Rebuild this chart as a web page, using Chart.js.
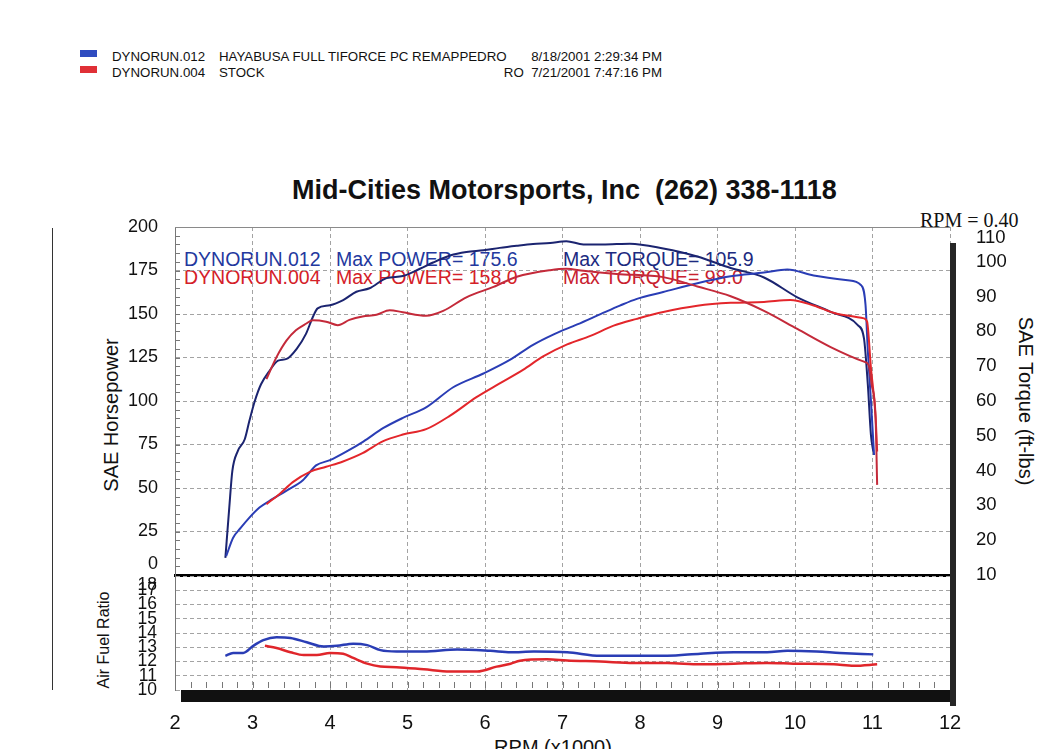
<!DOCTYPE html>
<html><head><meta charset="utf-8">
<script src="https://cdn.jsdelivr.net/npm/chart.js@4.4.0/dist/chart.umd.min.js"></script>
<style>
html,body{margin:0;padding:0;background:#fff;}
body{width:1051px;height:749px;position:relative;overflow:hidden;font-family:'Liberation Sans',Arial,sans-serif;color:#111;}
.t{position:absolute;white-space:pre;line-height:1;z-index:1;}
.r{position:absolute;z-index:3;}
canvas{position:absolute;left:0;top:0;z-index:2;}
</style></head><body>

<!-- header legend -->
<div class="r" style="left:80px;top:50px;width:17px;height:7px;background:#2f4cc0;z-index:1"></div>
<div class="r" style="left:80px;top:66px;width:17px;height:7px;background:#e03036;z-index:1"></div>
<div class="t" style="left:112px;top:50px;font-size:13.3px;">DYNORUN.012</div>
<div class="t" style="left:219px;top:50px;font-size:13.3px;">HAYABUSA FULL TIFORCE PC REMAPPEDRO</div>
<div class="t" style="right:389px;top:50px;font-size:13.3px;">8/18/2001 2:29:34 PM</div>
<div class="t" style="left:112px;top:66px;font-size:13.3px;">DYNORUN.004</div>
<div class="t" style="left:219px;top:66px;font-size:13.3px;">STOCK</div>
<div class="t" style="right:389px;top:66px;font-size:13.3px;">RO  7/21/2001 7:47:16 PM</div>

<!-- title -->
<div class="t" style="left:292px;top:177px;font-size:27px;font-weight:bold;">Mid-Cities Motorsports, Inc  (262) 338-1118</div>
<div class="t" style="left:920px;top:210px;font-size:20px;font-family:'Liberation Serif','Times New Roman',serif;">RPM = 0.40</div>

<!-- in-chart annotations -->
<div class="t" style="left:184px;top:250px;font-size:19.5px;color:#23389e;">DYNORUN.012</div>
<div class="t" style="left:336px;top:250px;font-size:19.5px;color:#23389e;">Max POWER= 175.6</div>
<div class="t" style="left:563px;top:250px;font-size:19.5px;color:#1c2a80;">Max TORQUE= 105.9</div>
<div class="t" style="left:184px;top:268px;font-size:19.5px;color:#d42028;">DYNORUN.004</div>
<div class="t" style="left:336px;top:268px;font-size:19.5px;color:#d42028;">Max POWER= 158.0</div>
<div class="t" style="left:563px;top:268px;font-size:19.5px;color:#c8202e;">Max TORQUE= 98.0</div>

<!-- axis titles -->
<div class="t" style="left:111px;top:415px;font-size:20px;transform:translate(-50%,-50%) rotate(-90deg);">SAE Horsepower</div>
<div class="t" style="left:1026px;top:401px;font-size:20px;transform:translate(-50%,-50%) rotate(90deg);">SAE Torque (ft-lbs)</div>
<div class="t" style="left:104px;top:640px;font-size:16px;transform:translate(-50%,-50%) rotate(-90deg);">Air Fuel Ratio</div>
<div class="t" style="left:553px;top:737px;font-size:20px;transform:translateX(-50%);">RPM (x1000)</div>

<!-- frame pieces -->
<div class="r" style="left:52px;top:228px;width:1px;height:462px;background:#333;"></div>
<div class="r" style="left:175px;top:227px;width:775px;height:1px;background:#8a8a8a;"></div>
<div class="r" style="left:950px;top:243px;width:6px;height:463px;background:#262626;"></div>
<div class="r" style="left:181px;top:690px;width:769px;height:12px;background:#111;"></div>

<canvas id="c1" width="1051" height="749"></canvas>
<canvas id="c2" width="1051" height="749"></canvas>

<script>
// ---------- data (RPM x1000) ----------
const blueTorqueRpm = [2.65,2.70,2.74,2.81,2.90,2.96,3.03,3.11,3.22,3.33,3.44,3.57,3.69,3.78,3.84,4.00,4.17,4.34,4.51,4.73,4.94,5.16,5.33,5.55,5.76,5.98,6.19,6.41,6.62,6.84,7.05,7.27,7.49,7.70,7.87,8.30,8.74,9.17,9.60,10.03,10.46,10.81,10.89,10.94,10.98,11.01];
const blueTorque    = [14.9,29.3,39.9,45.6,49.0,54.3,60.0,64.8,68.7,71.6,72.1,75.0,79.3,84.2,86.6,87.5,89.0,91.4,92.4,95.3,95.9,98.0,99.8,101.8,102.8,103.3,104.0,104.6,105.1,105.4,105.9,105.0,105.0,105.1,105.2,103.8,101.5,98.2,95.5,89.8,85.6,81.8,78.0,64.6,50.2,45.5];

const blueHpRpm = [2.66,2.75,2.85,2.96,3.09,3.22,3.44,3.65,3.82,4.00,4.21,4.43,4.69,4.94,5.24,5.59,5.98,6.32,6.62,6.88,7.19,7.49,7.74,7.96,8.30,8.74,9.17,9.60,9.90,10.24,10.68,10.85,10.91,10.94,10.98,11.02];
const blueHp    = [10.8,21.4,27.2,33.0,38.8,42.6,48.5,54.4,63.0,66.0,70.9,76.7,84.5,90.3,96.3,107.9,115.8,123.6,132.3,138.2,144.0,149.9,154.8,158.7,162.6,167.7,171.7,173.8,175.6,172.1,169.4,166.7,155.2,128.6,99.9,69.0];

const redHpRpm = [3.18,3.35,3.52,3.74,3.95,4.16,4.42,4.68,4.94,5.24,5.55,5.89,6.19,6.49,6.75,7.06,7.36,7.66,7.96,8.30,8.74,9.17,9.60,9.94,10.24,10.54,10.89,10.93,10.98,11.04,11.06];
const redHp    = [40.7,46.6,53.4,59.3,62.2,65.1,70.0,76.8,80.7,83.8,91.6,102.2,110.1,117.9,125.6,132.5,137.4,143.3,147.2,151.1,154.7,156.4,156.9,158.0,154.9,150.2,147.5,145.6,118.9,90.7,71.0];

const redTorqueRpm = [3.18,3.31,3.44,3.56,3.69,3.78,3.95,4.10,4.25,4.42,4.60,4.77,4.94,5.24,5.46,5.76,6.11,6.41,6.84,7.05,7.27,7.70,8.30,8.74,9.17,9.60,10.03,10.46,10.89,10.95,10.99,11.04,11.06];
const redTorque    = [66.3,72.6,77.4,80.3,82.2,83.2,82.8,81.8,83.3,84.3,84.8,86.1,85.5,84.5,85.9,89.8,92.8,95.7,97.6,98.0,97.4,96.5,95.6,92.9,90.1,85.9,80.7,75.5,71.3,70.3,64.6,55.1,35.9];

const blueAfrRpm = [2.65,2.75,2.88,3.01,3.14,3.31,3.49,3.70,3.92,4.09,4.30,4.48,4.65,4.86,5.21,5.64,6.07,6.33,6.63,7.06,7.49,7.92,8.35,8.78,9.21,9.64,9.90,10.28,10.58,11.01];
const blueAfr    = [12.4,12.6,12.6,13.1,13.5,13.7,13.65,13.35,13.05,13.1,13.25,13.15,12.8,12.7,12.7,12.85,12.75,12.65,12.7,12.65,12.4,12.4,12.4,12.55,12.65,12.65,12.75,12.7,12.6,12.5];

const redAfrRpm = [3.16,3.31,3.49,3.66,3.83,4.00,4.17,4.30,4.48,4.65,4.86,5.21,5.55,5.90,6.15,6.33,6.45,6.80,7.06,7.49,7.92,8.35,8.78,9.21,9.64,9.98,10.50,10.76,11.06];
const redAfr    = [13.1,12.95,12.65,12.45,12.45,12.6,12.55,12.25,11.85,11.65,11.6,11.45,11.3,11.3,11.64,11.84,12.05,12.15,12.07,12.0,11.9,11.9,11.8,11.85,11.9,11.85,11.8,11.7,11.8];

const rpmTicks = [2,3,4,5,6,7,8,9,10,11,12];
const hpTicks = [0,25,50,75,100,125,150,175,200];
const torqueTicks = [10,20,30,40,50,60,70,80,90,100,110];
const afrTicks = [10,11,12,13,14,15,16,17,18];

// ---------- helpers ----------
const pts = (xs, ys) => xs.map((x, i) => ({x, y: ys[i]}));
const FONT = "'Liberation Sans', Arial, sans-serif";
Chart.defaults.font.family = FONT;
Chart.defaults.color = '#111';
const GRID = '#a3a3a3';

// edge labels are nudged inward like the dyno printout (extra empty line)
const nudgeUp = (v, edge) => (v === edge ? [String(v), ''] : String(v));
const nudgeDown = (v, edge) => (v === edge ? ['', String(v)] : String(v));

const minorTicks = {
  id: 'minorTicks',
  afterDraw(chart, args, o) {
    const ctx = chart.ctx;
    ctx.save();
    ctx.strokeStyle = '#777';
    ctx.lineWidth = 1;
    if (o.mode === 'main') {
      const ys = chart.scales.y;
      for (let v = 5; v < 200; v += 5) {
        const p = Math.round(ys.getPixelForValue(v)) + 0.5;
        ctx.beginPath(); ctx.moveTo(176, p); ctx.lineTo(180, p); ctx.stroke();
      }
    } else {
      const xs = chart.scales.x;
      const b = chart.chartArea.bottom;
      for (let v = 2.2; v < 11.95; v += 0.2) {
        const p = Math.round(xs.getPixelForValue(v)) + 0.5;
        ctx.beginPath(); ctx.moveTo(p, b - 8); ctx.lineTo(p, b - 2); ctx.stroke();
      }
    }
    ctx.restore();
  }
};

const lineDs = (label, data, color, axis, w) => ({
  label, data, borderColor: color, backgroundColor: color, yAxisID: axis,
  borderWidth: w, pointRadius: 0, cubicInterpolationMode: 'monotone', fill: false
});

// ---------- main chart: power & torque ----------
new Chart(document.getElementById('c1'), {
  type: 'line',
  data: { datasets: [
    lineDs('DYNORUN.004 Torque', pts(redTorqueRpm, redTorque), '#c42a3a', 'y1', 2),
    lineDs('DYNORUN.004 Power', pts(redHpRpm, redHp), '#e3262b', 'y', 2),
    lineDs('DYNORUN.012 Power', pts(blueHpRpm, blueHp), '#2a3db5', 'y', 2),
    lineDs('DYNORUN.012 Torque', pts(blueTorqueRpm, blueTorque), '#1b2470', 'y1', 2)
  ]},
  options: {
    responsive: false, animation: false, devicePixelRatio: 1,
    layout: { padding: { left: 0, right: 0, top: 227, bottom: 174 } },
    plugins: { legend: { display: false }, tooltip: { enabled: false }, minorTicks: { mode: 'main' } },
    scales: {
      x: {
        type: 'linear', min: 2, max: 12,
        afterBuildTicks: s => { s.ticks = rpmTicks.map(v => ({value: v})); },
        ticks: { display: false, autoSkip: false },
        grid: { color: GRID, lineWidth: 1, drawTicks: false },
        border: { display: true, color: '#000', width: 3, dash: [4, 3] },
        afterFit: s => { s.height = 0; }
      },
      y: {
        position: 'left', min: 0, max: 200,
        afterBuildTicks: s => { s.ticks = hpTicks.map(v => ({value: v})); },
        ticks: { padding: 17, font: { size: 18 }, color: '#111', autoSkip: false,
                 callback: v => nudgeUp(v, 0) },
        grid: { color: GRID, lineWidth: 1, drawTicks: false },
        border: { display: true, color: '#777', width: 1, dash: [4, 3] },
        afterFit: s => { s.width = 175; }
      },
      y1: {
        position: 'right', min: 10, max: 110,
        afterBuildTicks: s => { s.ticks = torqueTicks.map(v => ({value: v})); },
        ticks: { padding: 26, font: { size: 18.5 }, color: '#111', autoSkip: false,
                 callback: v => nudgeDown(v, 110) },
        grid: { drawOnChartArea: false, drawTicks: false },
        border: { display: false },
        afterFit: s => { s.width = 101; }
      }
    }
  },
  plugins: [minorTicks]
});

// ---------- air fuel ratio chart ----------
new Chart(document.getElementById('c2'), {
  type: 'line',
  data: { datasets: [
    lineDs('DYNORUN.004 AFR', pts(redAfrRpm, redAfr), '#e0262b', 'y', 2.5),
    lineDs('DYNORUN.012 AFR', pts(blueAfrRpm, blueAfr), '#2a3db5', 'y', 2.5)
  ]},
  options: {
    responsive: false, animation: false, devicePixelRatio: 1,
    layout: { padding: { left: 0, right: 101, top: 576, bottom: 0 } },
    plugins: { legend: { display: false }, tooltip: { enabled: false }, minorTicks: { mode: 'afr' } },
    scales: {
      x: {
        type: 'linear', min: 2, max: 12,
        afterBuildTicks: s => { s.ticks = rpmTicks.map(v => ({value: v})); },
        ticks: { padding: 21, font: { size: 20 }, color: '#111', maxRotation: 0, autoSkip: false },
        grid: { color: GRID, lineWidth: 1, drawTicks: false },
        border: { display: false, dash: [4, 3] },
        afterFit: s => { s.height = 59; }
      },
      y: {
        position: 'left', min: 10, max: 18,
        afterBuildTicks: s => { s.ticks = afrTicks.map(v => ({value: v})); },
        ticks: { padding: 18, font: { size: 17.5, lineHeight: 1.0 }, color: '#111', autoSkip: false,
                 callback: v => nudgeDown(v, 18) },
        grid: { color: GRID, lineWidth: 1, drawTicks: false },
        border: { display: true, color: '#777', width: 1, dash: [4, 3] },
        afterFit: s => { s.width = 175; }
      }
    }
  },
  plugins: [minorTicks]
});
</script>
</body></html>
